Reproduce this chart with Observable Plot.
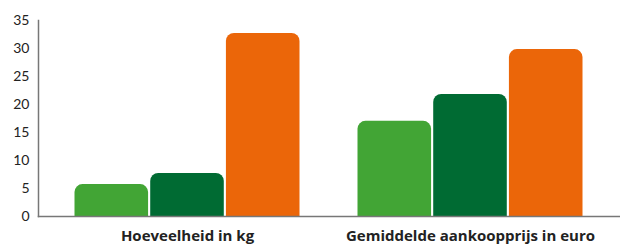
<!DOCTYPE html>
<html>
<head>
<meta charset="utf-8">
<script src="https://cdn.jsdelivr.net/npm/d3@7"></script>
<script src="https://cdn.jsdelivr.net/npm/@observablehq/plot@0.6"></script>
<style>
  html, body { margin: 0; padding: 0; background: #fff; }
  #chart svg { display: block; }
</style>
</head>
<body>
<div id="chart"></div>
<script>
const categories = ["Hoeveelheid in kg", "Gemiddelde aankoopprijs in euro"];
const seriesNames = ["Reeks 1", "Reeks 2", "Reeks 3"];
const seriesA = [5.7, 17.0];   // light green
const seriesB = [7.7, 21.8];   // dark green
const seriesC = [32.7, 29.8];  // orange
const yTicks = [0, 5, 10, 15, 20, 25, 30, 35];
const colors = ["#42a535", "#006b33", "#eb6609"];

const width = 620, height = 245;
const marginLeft = 38, marginRight = 0, marginTop = 20, marginBottom = 29;
const paddingInner = 0.2, paddingOuter = 0.125;
const step = (width - marginLeft - marginRight) / (categories.length - paddingInner + 2 * paddingOuter);
const bw = step * (1 - paddingInner);

const allSeries = [seriesA, seriesB, seriesC];
const barMarks = allSeries.map((vals, i) => {
  const data = categories.map((c, j) => ({category: c, value: vals[j]}));
  return Plot.barY(data, {
    x: "category",
    y: "value",
    fill: colors[i],
    insetLeft: bw * i / 3 + 0.5,
    insetRight: bw * (2 - i) / 3 + 0.5,
    ry1: 8
  });
});

const chart = Plot.plot({
  width, height, marginLeft, marginRight, marginTop, marginBottom,
  style: {fontFamily: "Lato, 'Open Sans', sans-serif", fontSize: "13px", color: "#222", background: "#fff"},
  x: {domain: categories, paddingInner, paddingOuter, label: null},
  y: {domain: [0, 35], label: null},
  marks: [
    ...barMarks,
    Plot.axisY({ticks: yTicks, tickSize: 0, tickPadding: 9, label: null, fontSize: 14}),
    Plot.axisX({tickSize: 0, tickPadding: 14, label: null, fontWeight: "bold", fontSize: 15, fontFamily: "'Open Sans', sans-serif"}),
    Plot.frame({anchor: "left", stroke: "#777", strokeWidth: 1.5}),
    Plot.frame({anchor: "bottom", stroke: "#777", strokeWidth: 1.5})
  ]
});
document.getElementById("chart").appendChild(chart);
</script>
</body>
</html>
